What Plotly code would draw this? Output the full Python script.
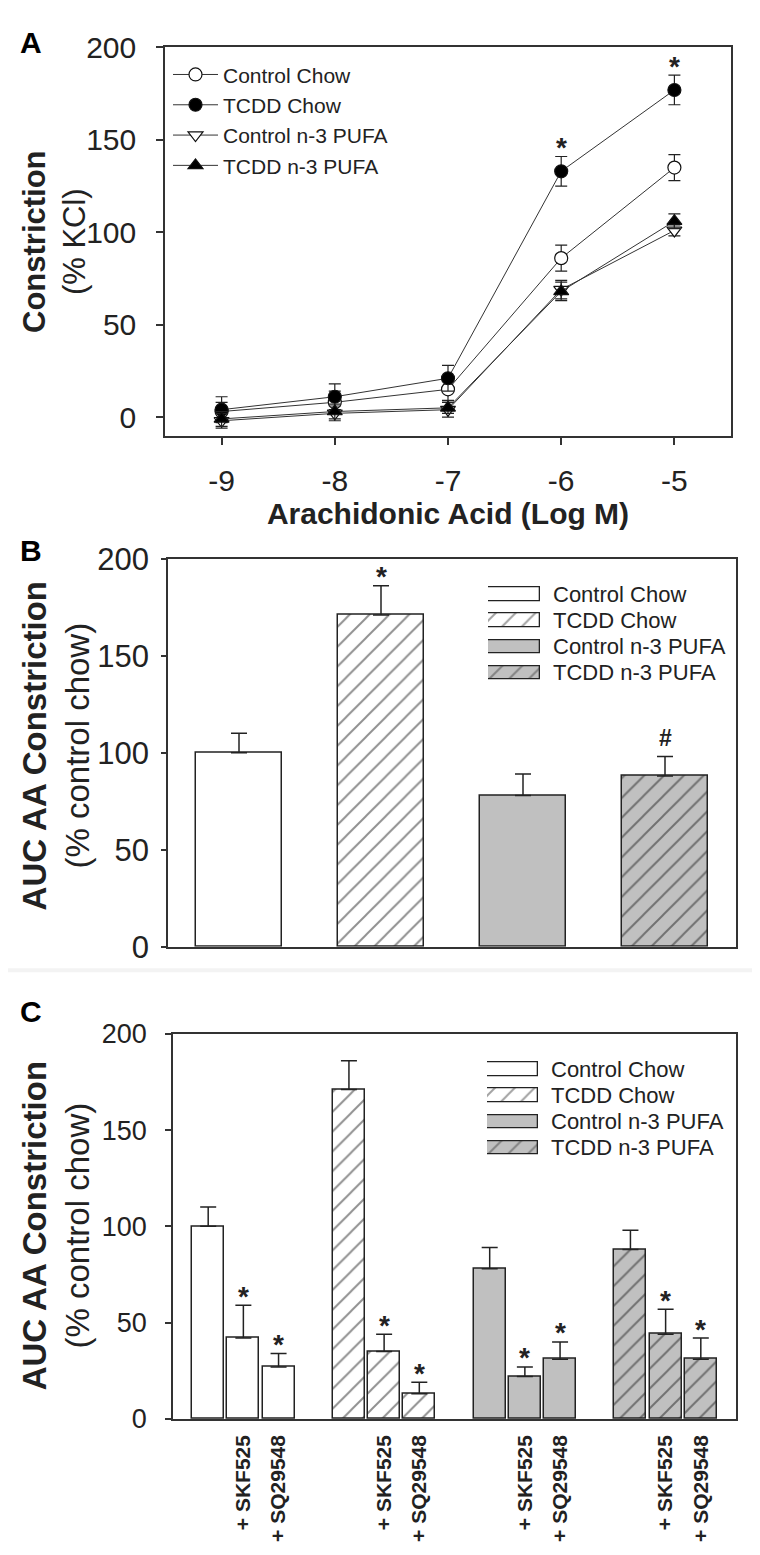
import plotly.graph_objects as go

# ---------------- data ----------------
conc = [-9, -8, -7, -6, -5]
a_control_chow = [3, 8, 15, 86, 135]
a_control_chow_err = [5, 6, 6, 7, 7]
a_tcdd_chow = [4, 11, 21, 133, 177]
a_tcdd_chow_err = [7, 7, 7, 8, 8]
a_control_n3 = [-2, 2, 4, 69, 101]
a_control_n3_err = [4, 4, 4, 5, 3]
a_tcdd_n3 = [-1, 3, 5, 68, 106]
a_tcdd_n3_err = [4, 4, 3, 5, 4]
a_marks = ["", "", "", "*", "*"]

groups = ["Control Chow", "TCDD Chow", "Control n-3 PUFA", "TCDD n-3 PUFA"]
b_auc = [100, 171, 78, 88]
b_err = [10, 15, 11, 10]
b_marks = ["", "*", "", "#"]

treatments = ["", "+ SKF525", "+ SQ29548"]
c_control_chow = [100, 42, 27]
c_control_chow_err = [10, 17, 7]
c_tcdd_chow = [171, 35, 13]
c_tcdd_chow_err = [15, 9, 6]
c_control_n3 = [78, 22, 31]
c_control_n3_err = [11, 5, 9]
c_tcdd_n3 = [88, 44, 31]
c_tcdd_n3_err = [10, 13, 11]
c_marks = ["", "*", "*"]

# ---------------- style ----------------
W, H = 760, 1555
FONT = "Arial, 'Liberation Sans', sans-serif"
INK = "#222222"
AX = "#333333"
GRAY = "#c0c0c0"
fills = ["white", "white", GRAY, GRAY]
shapes = ["", "/", "", "/"]
PAT = dict(fgcolor="#222222", size=14, solidity=0.14, fillmode="overlay")


def fx(p):
    return p / W


def fy(p):
    return 1 - p / H


fig = go.Figure()

# ---------------- panel A ----------------
a_series = [
    ("Control Chow", a_control_chow, a_control_chow_err, "circle", "white"),
    ("TCDD Chow", a_tcdd_chow, a_tcdd_chow_err, "circle", "black"),
    ("Control n-3 PUFA", a_control_n3, a_control_n3_err, "triangle-down", "white"),
    ("TCDD n-3 PUFA", a_tcdd_n3, a_tcdd_n3_err, "triangle-up", "black"),
]
for name, vals, errs, sym, fill in a_series:
    fig.add_trace(go.Scatter(
        x=conc, y=vals, name=name, mode="lines+markers",
        line=dict(color=AX, width=1),
        marker=dict(symbol=sym, size=13, color=fill, line=dict(color="#111", width=1.2)),
        error_y=dict(type="data", array=errs, color=INK, thickness=1.2, width=6),
        xaxis="x", yaxis="y", legend="legend",
    ))

# ---------------- panel B ----------------
for i, g in enumerate(groups):
    fig.add_trace(go.Bar(
        x=[g], y=[b_auc[i]], name=g, width=0.6, showlegend=False,
        marker=dict(color=fills[i], line=dict(color=INK, width=1.5),
                    pattern=dict(shape=shapes[i], **PAT)),
        error_y=dict(type="data", symmetric=False, array=[b_err[i]], arrayminus=[0],
                     color=INK, thickness=1.5, width=8),
        xaxis="x2", yaxis="y2",
    ))

# ---------------- panel C ----------------
c_vals = [c_control_chow, c_tcdd_chow, c_control_n3, c_tcdd_n3]
c_errs = [c_control_chow_err, c_tcdd_chow_err, c_control_n3_err, c_tcdd_n3_err]
c_pos = []
c_text = []
for gi, g in enumerate(groups):
    xs = [4 * gi + j for j in range(len(treatments))]
    c_pos += xs
    c_text += treatments
    fig.add_trace(go.Bar(
        x=xs, y=c_vals[gi], name=g, width=0.91, showlegend=False,
        marker=dict(color=fills[gi], line=dict(color=INK, width=1.5),
                    pattern=dict(shape=shapes[gi], **PAT)),
        error_y=dict(type="data", symmetric=False, array=c_errs[gi],
                     arrayminus=[0] * len(xs), color=INK, thickness=1.5, width=8),
        xaxis="x3", yaxis="y3",
    ))

# ---------------- legend swatches for B and C ----------------
for xa, ya in (("x4", "y4"), ("x5", "y5")):
    fig.add_trace(go.Bar(
        x=[1] * len(groups), y=groups, orientation="h", width=0.52, showlegend=False,
        hoverinfo="skip",
        marker=dict(color=fills, line=dict(color=INK, width=1.3),
                    pattern=dict(shape=shapes, **PAT)),
        xaxis=xa, yaxis=ya,
    ))

annotations = []
MARK_FONT = dict(size=28, family=FONT, color=INK, weight="bold")

# significance marks
for i, m in enumerate(a_marks):
    if m:
        annotations.append(dict(x=conc[i], y=a_tcdd_chow[i] + a_tcdd_chow_err[i], xref="x", yref="y",
                                text=m, showarrow=False, xanchor="center", yanchor="middle",
                                yshift=9, font=MARK_FONT))
for i, m in enumerate(b_marks):
    if m:
        annotations.append(dict(x=groups[i], y=b_auc[i] + b_err[i], xref="x2", yref="y2",
                                text=m, showarrow=False, xanchor="center", yanchor="middle",
                                yshift=9 if m == "*" else 19,
                                font=MARK_FONT if m == "*" else dict(size=23, family=FONT,
                                                                     color=INK, weight="bold")))
for gi in range(len(groups)):
    for j, m in enumerate(c_marks):
        if m:
            annotations.append(dict(x=4 * gi + j, y=c_vals[gi][j] + c_errs[gi][j], xref="x3", yref="y3",
                                    text=m, showarrow=False, xanchor="center", yanchor="middle",
                                    yshift=9, font=MARK_FONT))

# legend labels for B and C
for xa, ya in (("x4", "y4"), ("x5", "y5")):
    for g in groups:
        annotations.append(dict(x=1, y=g, xref=xa, yref=ya, text=g, showarrow=False,
                                xanchor="left", yanchor="middle", xshift=11,
                                font=dict(size=22, family=FONT, color=INK)))

# y-axis titles
annotations += [
    dict(x=fx(46), y=fy(222), xref="paper", yref="paper", textangle=-90, showarrow=False,
         xanchor="center", yanchor="middle",
         text="<b>Constriction</b><br>(% KCl)", font=dict(size=31, family=FONT, color=INK)),
    dict(x=fx(48), y=fy(738), xref="paper", yref="paper", textangle=-90, showarrow=False,
         xanchor="center", yanchor="middle",
         text="<b>AUC AA Constriction</b><br>(% control chow)", font=dict(size=33, family=FONT, color=INK)),
    dict(x=fx(48), y=fy(1229), xref="paper", yref="paper", textangle=-90, showarrow=False,
         xanchor="center", yanchor="middle",
         text="<b>AUC AA Constriction</b><br>(% control chow)", font=dict(size=33, family=FONT, color=INK)),
]
# panel letters
for letter, yc in (("A", 18), ("B", 538), ("C", 1009)):
    annotations.append(dict(x=fx(10), y=fy(yc), xref="paper", yref="paper", text=letter,
                            showarrow=False, xanchor="left", yanchor="middle",
                            font=dict(size=30, family=FONT, color="black", weight="bold")))


def yax(domain, rng, tfont, standoff, ticklen):
    return dict(domain=domain, range=rng, tickvals=[0, 50, 100, 150, 200], ticks="outside",
                ticklen=ticklen, tickwidth=1.5, tickcolor=AX, showline=True, linecolor=AX,
                linewidth=1.5, mirror=True, showgrid=False, zeroline=False,
                tickfont=dict(size=tfont, family=FONT, color=INK), ticklabelstandoff=standoff)


fig.update_layout(
    width=W, height=H, margin=dict(l=0, r=0, t=0, b=0),
    paper_bgcolor="white", plot_bgcolor="white",
    font=dict(family=FONT, color=INK),
    bargap=0,
    xaxis=dict(domain=[fx(157), fx(723)], anchor="y", range=[-9.5, -4.5], tickvals=conc,
               ticktext=[str(c) for c in conc],
               ticks="outside", ticklen=8, tickwidth=1.5, tickcolor=AX, showline=True,
               linecolor=AX, linewidth=1.5, mirror=True, showgrid=False, zeroline=False,
               tickfont=dict(size=30, family=FONT, color=INK), ticklabelstandoff=10,
               title=dict(text="<b>Arachidonic Acid (Log M)</b>", standoff=6,
                          font=dict(size=30, family=FONT, color=INK))),
    yaxis=dict(anchor="x", **yax([fy(420), fy(23)], [-10, 200], 30, 14, 7)),
    xaxis2=dict(domain=[fx(160), fx(728)], anchor="y2", type="category", range=[-0.5, 3.5],
                showticklabels=False, ticks="", showline=True, linecolor=AX, linewidth=1.5,
                mirror=True, showgrid=False, zeroline=False),
    yaxis2=dict(anchor="x2", **yax([fy(943), fy(546)], [0, 200], 31, 6, 5)),
    xaxis3=dict(domain=[fx(165), fx(728)], anchor="y3", range=[-1, 15], tickvals=c_pos,
                ticktext=c_text, tickangle=-90, ticks="", showline=True, linecolor=AX,
                linewidth=1.5, mirror=True, showgrid=False, zeroline=False,
                tickfont=dict(size=21, family=FONT, color=INK, weight="bold"), ticklabelstandoff=6),
    yaxis3=dict(anchor="x3", **yax([fy(1426), fy(1032)], [0, 200], 27, 13, 6)),
    xaxis4=dict(domain=[fx(480), fx(532)], anchor="y4", range=[0, 1], visible=False),
    yaxis4=dict(domain=[fy(676), fy(569)], anchor="x4", type="category", range=[3.5, -0.5],
                visible=False),
    xaxis5=dict(domain=[fx(479), fx(530)], anchor="y5", range=[0, 1], visible=False),
    yaxis5=dict(domain=[fy(1162), fy(1055)], anchor="x5", type="category", range=[3.5, -0.5],
                visible=False),
    legend=dict(x=fx(160), y=fy(30), xanchor="left", yanchor="top",
                font=dict(size=21, family=FONT, color=INK), bgcolor="rgba(0,0,0,0)",
                itemwidth=45, tracegroupgap=0),
    annotations=annotations,
    shapes=[dict(type="line", xref="paper", yref="paper", x0=0, x1=1, y0=fy(967), y1=fy(967),
                 line=dict(color="#f3f3f3", width=4))],
)

fig.write_html("out.html")
